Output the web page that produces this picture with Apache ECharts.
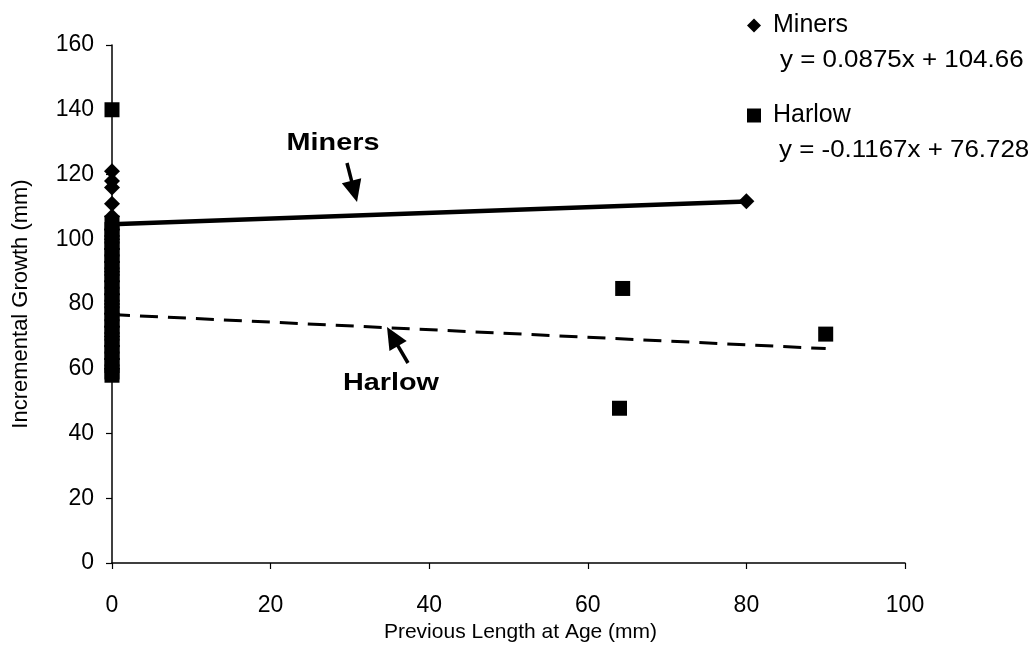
<!DOCTYPE html>
<html><head><meta charset="utf-8">
<script src="https://cdn.jsdelivr.net/npm/echarts@6/dist/echarts.min.js"></script>
<style>html,body{margin:0;padding:0;background:#fff}#c{width:1034px;height:650px}</style>
</head><body><div id="c"></div>
<script>
// ---- data ----
const seriesNames = ['Miners', 'Harlow'];
const minersX0 = [121, 118, 116, 111, 107, 103, 100, 97, 93, 90, 87, 83, 80, 77, 73, 70, 67, 63, 60];
const minersOther = [[80, 111.7]];
const harlowX0 = [140, 105, 103, 101, 99, 97, 95, 93, 91, 89, 87, 85, 83, 81, 79, 77, 75, 73, 71, 69, 67, 65, 63, 61, 59, 58];
const harlowOther = [[64.4, 84.8], [64.0, 47.8], [90.0, 70.7]];
const minersTrend = [[0, 104.66], [80, 111.66]];
const harlowTrend = [[0, 76.728], [90, 66.22]];
const equations = ['y = 0.0875x + 104.66', 'y = -0.1167x + 76.728'];
const xAxisTitle = 'Previous Length at Age (mm)';
const yAxisTitle = 'Incremental Growth (mm)';
const xRange = [0, 100, 20];
const yRange = [0, 160, 20];

const FONT = '"Liberation Sans", Arial, sans-serif';
const minersData = minersX0.map(v => [0, v]).concat(minersOther);
const harlowData = harlowX0.map(v => [0, v]).concat(harlowOther);

function arrow(tail, tip, headLen, headW, shaftW) {
  const dx = tip[0] - tail[0], dy = tip[1] - tail[1];
  const L = Math.hypot(dx, dy), ux = dx / L, uy = dy / L, px = -uy, py = ux;
  const bx = tip[0] - ux * headLen, by = tip[1] - uy * headLen;
  return [
    { type: 'line', shape: { x1: tail[0], y1: tail[1], x2: bx + ux * 2, y2: by + uy * 2 },
      style: { stroke: '#000', lineWidth: shaftW }, silent: true },
    { type: 'polygon', shape: { points: [tip, [bx + px * headW / 2, by + py * headW / 2], [bx - px * headW / 2, by - py * headW / 2]] },
      style: { fill: '#000' }, silent: true }
  ];
}

const chart = echarts.init(document.getElementById('c'), null, { renderer: 'canvas' });
const legendCommon = {
  orient: 'vertical', itemWidth: 14, itemHeight: 14,
  textStyle: { fontFamily: FONT, fontSize: 25, color: '#000', padding: [0, 0, 0, 7] }
};
chart.setOption({
  animation: false,
  backgroundColor: '#fff',
  grid: { left: 112, right: 129, top: 45, bottom: 87, outerBoundsMode: 'none' },
  legend: [
    Object.assign({ data: [{ name: seriesNames[0], icon: 'diamond', itemStyle: { color: '#000', opacity: 1 } }], left: 742, top: 8 }, legendCommon),
    Object.assign({ data: [{ name: seriesNames[1], icon: 'rect', itemStyle: { color: '#000', opacity: 1 } }], left: 742, top: 98 }, legendCommon)
  ],
  xAxis: {
    type: 'value', min: xRange[0], max: xRange[1], interval: xRange[2],
    name: xAxisTitle, nameLocation: 'middle', nameGap: 58,
    nameTextStyle: { fontFamily: FONT, fontSize: 21, color: '#000', padding: [0, 0, 0, 24] },
    axisLine: { lineStyle: { color: '#000', width: 1.5 } },
    axisTick: { show: true, length: 6, lineStyle: { color: '#000', width: 1.2 } },
    axisLabel: { fontFamily: FONT, fontSize: 23, color: '#000', margin: 31 },
    splitLine: { show: false }
  },
  yAxis: {
    type: 'value', min: yRange[0], max: yRange[1], interval: yRange[2],
    name: yAxisTitle, nameLocation: 'middle', nameGap: 80,
    nameTextStyle: { fontFamily: FONT, fontSize: 22, color: '#000' },
    axisLine: { show: true, lineStyle: { color: '#000', width: 1.5 } },
    axisTick: { show: true, length: 6, lineStyle: { color: '#000', width: 1.2 } },
    axisLabel: { fontFamily: FONT, fontSize: 23, color: '#000', margin: 18 },
    splitLine: { show: false }
  },
  series: [
    { name: 'Miners trend', type: 'line', data: minersTrend, showSymbol: false, silent: true,
      lineStyle: { color: '#000', width: 4.5 }, z: 2 },
    { name: 'Harlow trend', type: 'line', data: harlowTrend, showSymbol: false, silent: true,
      lineStyle: { color: '#000', width: 3, type: [18, 10] }, z: 2 },
    { name: seriesNames[0], type: 'scatter', data: minersData, symbol: 'diamond', symbolSize: 16,
      itemStyle: { color: '#000', opacity: 1 }, z: 3 },
    { name: seriesNames[1], type: 'scatter', data: harlowData, symbol: 'rect', symbolSize: 15,
      itemStyle: { color: '#000', opacity: 1 }, z: 4 }
  ],
  graphic: [
    { type: 'text', x: 780, y: 60, scaleX: 1.08, silent: true,
      style: { text: equations[0], fontFamily: FONT, fontSize: 24, fill: '#000', textAlign: 'left', textVerticalAlign: 'middle' } },
    { type: 'text', x: 779, y: 150, scaleX: 1.08, silent: true,
      style: { text: equations[1], fontFamily: FONT, fontSize: 24, fill: '#000', textAlign: 'left', textVerticalAlign: 'middle' } },
    { type: 'text', x: 333, y: 143, scaleX: 1.2, silent: true,
      style: { text: seriesNames[0], fontFamily: FONT, fontSize: 24, fontWeight: 'bold', fill: '#000', textAlign: 'center', textVerticalAlign: 'middle' } },
    { type: 'text', x: 391, y: 383, scaleX: 1.2, silent: true,
      style: { text: seriesNames[1], fontFamily: FONT, fontSize: 24, fontWeight: 'bold', fill: '#000', textAlign: 'center', textVerticalAlign: 'middle' } }
  ].concat(arrow([347, 163], [357, 202], 22, 20, 3.5)).concat(arrow([408, 363], [387, 327], 22, 20, 3.5))
});
</script>
</body></html>
